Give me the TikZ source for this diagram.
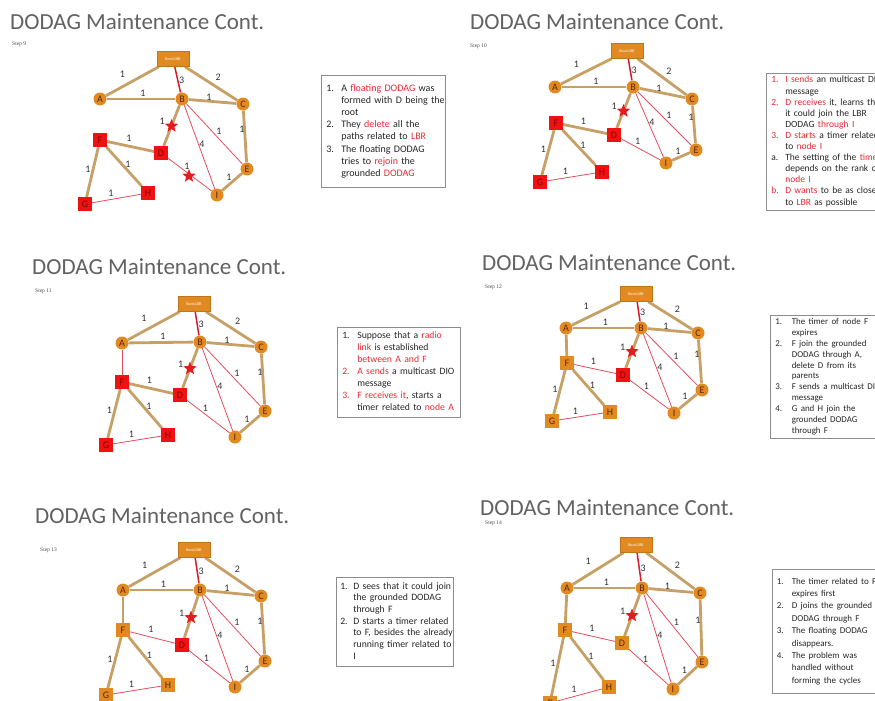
\documentclass[tikz,border=0pt]{standalone}
\usepackage{fontspec}
\setmainfont{Carlito}
\newfontfamily\stepfont{Liberation Serif}
\usetikzlibrary{shapes.geometric,backgrounds,calc}

\pgfdeclarelayer{paper}
\pgfsetlayers{paper,background,main}

\definecolor{nodeorange}{RGB}{226,138,34}
\definecolor{nodeletter}{RGB}{95,35,10}
\definecolor{floatred}{RGB}{240,18,18}
\definecolor{floatletter}{RGB}{130,6,6}
\definecolor{linktan}{RGB}{198,160,102}
\definecolor{linkred}{RGB}{226,78,94}
\definecolor{rootred}{RGB}{212,28,44}
\definecolor{starred}{RGB}{228,28,32}
\definecolor{titlegray}{RGB}{98,98,98}
\definecolor{notered}{RGB}{232,42,52}
\definecolor{noteframe}{RGB}{140,140,140}
\definecolor{notetext}{RGB}{38,38,38}

\newcommand\hl[1]{\textcolor{notered}{#1}}

\tikzset{
  grnode/.style={circle, fill=nodeorange, minimum size=13pt, inner sep=0pt,
    text=nodeletter, font=\fontsize{10}{10}\selectfont},
  grsquare/.style={rectangle, fill=nodeorange, minimum size=13.5pt, inner sep=0pt,
    text=nodeletter, font=\fontsize{10}{10}\selectfont},
  flsquare/.style={rectangle, fill=floatred, minimum size=13.5pt, inner sep=0pt,
    text=floatletter, font=\fontsize{10}{10}\selectfont},
  rootbox/.style={rectangle, fill=nodeorange, draw=nodeorange!85!black, line width=0.4pt,
    minimum width=32pt, minimum height=15pt, inner sep=0pt, text=white,
    font=\fontsize{4}{4}\selectfont},
  tanlink/.style={draw=linktan, line width=2.8pt},
  redlink/.style={draw=linkred, line width=0.8pt},
  rootlink/.style={draw=rootred, line width=1.5pt},
  cost/.style={inner sep=0pt, text=black!80, font=\fontsize{10}{10}\selectfont},
  starmark/.style={star, star points=5, star point ratio=2.3, fill=starred,
    minimum size=14pt, inner sep=0pt},
  slidetitle/.style={anchor=west, inner sep=0pt, text=titlegray,
    font=\fontsize{23}{23}\selectfont},
  steptag/.style={anchor=west, inner sep=0pt, text=black!70,
    font=\stepfont\fontsize{5.5}{5.5}\selectfont},
  notebox/.style={draw=noteframe, line width=0.6pt, anchor=north west,
    inner xsep=5pt, inner ysep=0pt, align=left, text=notetext},
}

% #1 panel prefix, #2 style of D, #3 style of F, G, H, #4 style of the F--D link
\newcommand\drawnet[4]{%
  \node[rootbox] (#1R) at (#1pR) {Root/LBR};
  \node[grnode] (#1A) at (#1pA) {A};
  \node[grnode] (#1B) at (#1pB) {B};
  \node[grnode] (#1C) at (#1pC) {C};
  \node[#2] (#1D) at (#1pD) {D};
  \node[grnode] (#1E) at (#1pE) {E};
  \node[#3] (#1F) at (#1pF) {F};
  \node[#3] (#1G) at (#1pG) {G};
  \node[#3] (#1H) at (#1pH) {H};
  \node[grnode] (#1I) at (#1pI) {I};
  \begin{scope}[on background layer]
    \draw[tanlink] (#1R) -- (#1A) node[cost, midway, shift={(-10,-7)}] {1};
    \draw[rootlink] (#1R) -- (#1B) node[cost, midway, shift={(4,1)}] {3};
    \draw[tanlink] (#1R) -- (#1C) node[cost, midway, shift={(7,-6)}] {2};
    \draw[tanlink] (#1A) -- (#1B) node[cost, midway, shift={(2,-6)}] {1};
    \draw[tanlink] (#1B) -- (#1C) node[cost, midway, shift={(-3.5,-4.5)}] {1};
    \draw[tanlink] (#1B) -- (#1D) node[cost, midway, shift={(-9.5,-4)}] {1};
    \draw[redlink] (#1B) -- (#1I) node[cost, midway, shift={(2.5,-3)}] {4};
    \draw[redlink] (#1B) -- (#1E) node[cost, midway, shift={(4.5,-3)}] {1};
    \draw[tanlink] (#1C) -- (#1E) node[cost, midway, shift={(-3,-7)}] {1};
    \draw[redlink] (#1D) -- (#1I) node[cost, midway, shift={(-3,-8)}] {1};
    \draw[tanlink] (#1E) -- (#1I) node[cost, midway, shift={(-3,-5)}] {1};
    \draw[#4] (#1F) -- (#1D) node[cost, midway, shift={(-1.5,-8)}] {1};
    \draw[tanlink] (#1F) -- (#1G) node[cost, midway, shift={(-4.5,-3)}] {1};
    \draw[tanlink] (#1F) -- (#1H) node[cost, midway, shift={(4,-2.5)}] {1};
    \draw[redlink] (#1G) -- (#1H) node[cost, midway, shift={(-5.5,-5.5)}] {1};
  \end{scope}
  \node[starmark] (#1S) at ($(#1B)!.5!(#1D)$) {};
}

\begin{document}
\begin{tikzpicture}[x=1pt, y=-1pt]
\useasboundingbox (0,0) rectangle (875,701);
\begin{pgfonlayer}{paper}
  \fill[white] (0,0) rectangle (875,701);
\end{pgfonlayer}

% ---------------- Step 9 ----------------
\node[slidetitle] (s9title) at (10,22) {DODAG Maintenance Cont.};
\node[steptag] (s9tag) at (12,44) {Step 9};
\path (173,59) coordinate (s9pR) (100,99) coordinate (s9pA) (182,99) coordinate (s9pB)
      (243,104) coordinate (s9pC) (161,153) coordinate (s9pD) (247,169) coordinate (s9pE)
      (100,140) coordinate (s9pF) (85,204) coordinate (s9pG) (148,193) coordinate (s9pH)
      (217,195) coordinate (s9pI);
\drawnet{s9}{flsquare}{flsquare}{tanlink}
\node[starmark] (s9S2) at ($(s9D)!.5!(s9I)+(0,2)$) {};
\node[notebox, minimum width=124pt, minimum height=112pt, text width=114pt] (s9note) at (321,75)
{\fontsize{10}{12.2}\selectfont
\begin{tabular}{@{}p{15pt}@{}l@{}}
1. & A \hl{floating DODAG} was\\
   & formed with D being the\\
   & root\\
2. & They \hl{delete} all the\\
   & paths related to \hl{LBR}\\
3. & The floating DODAG\\
   & tries to \hl{rejoin} the\\
   & grounded \hl{DODAG}
\end{tabular}};

% ---------------- Step 10 ----------------
\node[slidetitle] (s10title) at (470,22) {DODAG Maintenance Cont.};
\node[steptag] (s10tag) at (470,46) {Step 10};
\path (627,51) coordinate (s10pR) (555,87) coordinate (s10pA) (633,87) coordinate (s10pB)
      (692,99) coordinate (s10pC) (614,135) coordinate (s10pD) (696,150) coordinate (s10pE)
      (556,123) coordinate (s10pF) (540,182) coordinate (s10pG) (602,172) coordinate (s10pH)
      (666,163) coordinate (s10pI);
\drawnet{s10}{flsquare}{flsquare}{tanlink}
\node[notebox, minimum width=140pt, minimum height=137pt, text width=130pt] (s10note) at (766,73)
{\fontsize{9.5}{11.1}\selectfont
\begin{tabular}{@{}p{14pt}@{}l@{}}
\hl{1.} & \hl{I sends} an multicast DIO\\
        & message\\
\hl{2.} & \hl{D receives} it, learns that\\
        & it could join the LBR\\
        & DODAG \hl{through I}\\
\hl{3.} & \hl{D starts} a timer related\\
        & to \hl{node I}\\
a.      & The setting of the \hl{timer}\\
        & depends on the rank of\\
        & \hl{node I}\\
\hl{b.} & \hl{D wants} to be as close\\
        & to \hl{LBR} as possible
\end{tabular}};

% ---------------- Step 11 ----------------
\node[slidetitle] (s11title) at (32,267) {DODAG Maintenance Cont.};
\node[steptag] (s11tag) at (35,291) {Step 11};
\path (194,304) coordinate (s11pR) (122,343) coordinate (s11pA) (200,342) coordinate (s11pB)
      (261,347) coordinate (s11pC) (180,395) coordinate (s11pD) (265,411) coordinate (s11pE)
      (122,382) coordinate (s11pF) (106,445) coordinate (s11pG) (168,435) coordinate (s11pH)
      (235,437) coordinate (s11pI);
\drawnet{s11}{flsquare}{flsquare}{tanlink}
\begin{scope}[on background layer]
  \draw[redlink] (s11A) -- (s11F);
\end{scope}
\node[notebox, minimum width=123pt, minimum height=90pt, text width=113pt] (s11note) at (337,327)
{\fontsize{9.7}{11.9}\selectfont
\begin{tabular}{@{}p{15pt}@{}l@{}}
1.      & Suppose that a \hl{radio}\\
        & \hl{link} is established\\
        & \hl{between A and F}\\
\hl{2.} & \hl{A sends} a multicast DIO\\
        & message\\
\hl{3.} & \hl{F receives it}, starts a\\
        & timer related to \hl{node A}
\end{tabular}};

% ---------------- Step 12 ----------------
\node[slidetitle] (s12title) at (482,263) {DODAG Maintenance Cont.};
\node[steptag] (s12tag) at (485,287) {Step 12};
\path (636,294) coordinate (s12pR) (566,328) coordinate (s12pA) (641,328) coordinate (s12pB)
      (698,333) coordinate (s12pC) (623,375) coordinate (s12pD) (702,390) coordinate (s12pE)
      (567,363) coordinate (s12pF) (552,421) coordinate (s12pG) (610,412) coordinate (s12pH)
      (674,413) coordinate (s12pI);
\drawnet{s12}{flsquare}{grsquare}{redlink}
\begin{scope}[on background layer]
  \draw[tanlink] (s12A) -- (s12F);
\end{scope}
\node[notebox, minimum width=140pt, minimum height=123pt, text width=130pt] (s12note) at (770,315)
{\fontsize{8.9}{10.9}\selectfont
\begin{tabular}{@{}p{16.5pt}@{}l@{}}
1. & The timer of node F\\
   & expires\\
2. & F join the grounded\\
   & DODAG through A,\\
   & delete D from its\\
   & parents\\
3. & F sends a multicast DIO\\
   & message\\
4. & G and H join the\\
   & grounded DODAG\\
   & through F
\end{tabular}};

% ---------------- Step 13 ----------------
\node[slidetitle] (s13title) at (35,516) {DODAG Maintenance Cont.};
\node[steptag] (s13tag) at (40,550) {Step 13};
\path (194,550) coordinate (s13pR) (123,590) coordinate (s13pA) (200,590) coordinate (s13pB)
      (261,596) coordinate (s13pC) (182,645) coordinate (s13pD) (265,661) coordinate (s13pE)
      (123,630) coordinate (s13pF) (106,695) coordinate (s13pG) (168,685) coordinate (s13pH)
      (235,687) coordinate (s13pI);
\drawnet{s13}{flsquare}{grsquare}{redlink}
\begin{scope}[on background layer]
  \draw[tanlink] (s13A) -- (s13F);
\end{scope}
\node[notebox, minimum width=117pt, minimum height=89pt, text width=109pt, inner xsep=4pt] (s13note) at (336,577)
{\fontsize{9.7}{11.7}\selectfont
\begin{tabular}{@{}p{13pt}@{}l@{}}
1. & D sees that it could join\\
   & the grounded DODAG\\
   & through F\\
2. & D starts a timer related\\
   & to F, besides the already\\
   & running timer related to\\
   & I
\end{tabular}};

% ---------------- Step 14 ----------------
\node[slidetitle] (s14title) at (480,508) {DODAG Maintenance Cont.};
\node[steptag] (s14tag) at (485,523) {Step 14};
\path (636,545) coordinate (s14pR) (567,588) coordinate (s14pA) (642,588) coordinate (s14pB)
      (700,593) coordinate (s14pC) (622,643) coordinate (s14pD) (702,662) coordinate (s14pE)
      (565,630) coordinate (s14pF) (550,703) coordinate (s14pG) (609,687) coordinate (s14pH)
      (673,689) coordinate (s14pI);
\drawnet{s14}{grsquare}{grsquare}{redlink}
\begin{scope}[on background layer]
  \draw[tanlink] (s14A) -- (s14F);
\end{scope}
\node[notebox, minimum width=140pt, minimum height=124pt, text width=131pt, inner xsep=4pt] (s14note) at (772,569)
{\fontsize{9}{12.4}\selectfont
\begin{tabular}{@{}p{15pt}@{}l@{}}
1. & The timer related to F\\
   & expires first\\
2. & D joins the grounded\\
   & DODAG through F\\
3. & The floating DODAG\\
   & disappears.\\
4. & The problem was\\
   & handled without\\
   & forming the cycles
\end{tabular}};
\end{tikzpicture}
\end{document}
